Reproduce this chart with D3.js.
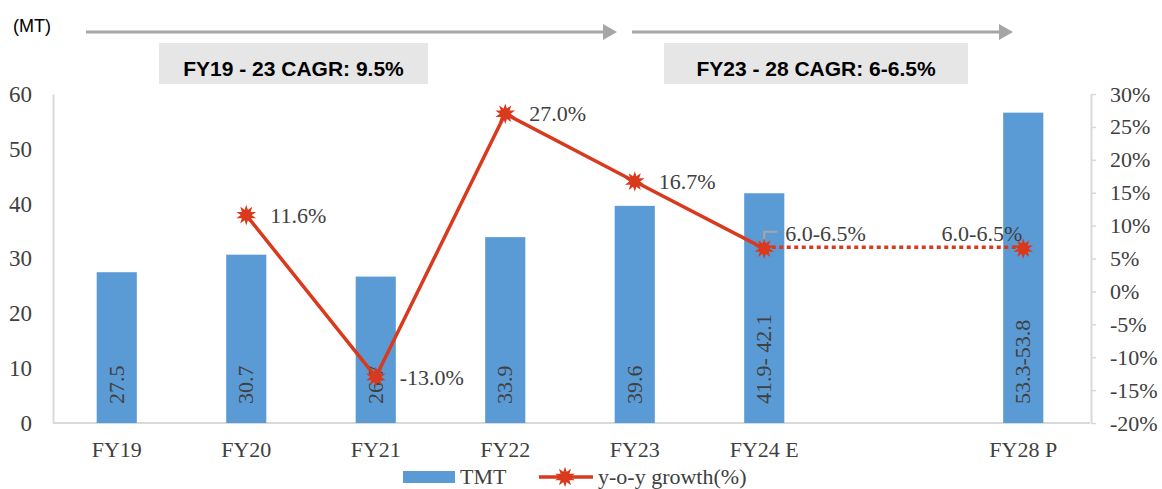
<!DOCTYPE html>
<html>
<head>
<meta charset="utf-8">
<script src="https://cdn.jsdelivr.net/npm/d3@7"></script>
<style>
  html, body { margin: 0; padding: 0; background: #ffffff; }
  svg { display: block; }
</style>
</head>
<body>
<div id="chart"></div>
<script>
// ---- data ----
const categories = ["FY19", "FY20", "FY21", "FY22", "FY23", "FY24 E", "", "FY28 P"];
const tmtValues = [27.5, 30.7, 26.7, 33.9, 39.6, 41.9, null, 56.6];
const tmtLabels = ["27.5", "30.7", "26.7", "33.9", "39.6", "41.9- 42.1", "", "53.3-53.8"];
const growthValues = [null, 11.6, -13.0, 27.0, 16.7, 6.5, null, 6.5];
const growthLabels = ["", "11.6%", "-13.0%", "27.0%", "16.7%", "6.0-6.5%", "", "6.0-6.5%"];
const solidIdx = [1, 2, 3, 4, 5];
const dottedIdx = [5, 7];
const leftTicks = [0, 10, 20, 30, 40, 50, 60];
const rightTicks = [-20, -15, -10, -5, 0, 5, 10, 15, 20, 25, 30];
const cagrTexts = ["FY19 - 23 CAGR: 9.5%", "FY23 - 28 CAGR: 6-6.5%"];
const unitLabel = "(MT)";
const legendLabels = ["TMT", "y-o-y growth(%)"];

// ---- setup ----
const W = 1162, H = 489;
const BAR = "#5B9BD5", LINE = "#D9391C", TXT = "#404040", AX = "#d9d9d9";
const serif = "'Liberation Serif', 'Times New Roman', serif";
const sans = "'Liberation Sans', Arial, sans-serif";

const svg = d3.select("#chart").append("svg").attr("width", W).attr("height", H);

const x = d3.scaleBand().domain(categories).range([52, 1088]).paddingInner(0.69).paddingOuter(0.345);
const yL = d3.scaleLinear().domain([0, 60]).range([423, 94]);
const yR = d3.scaleLinear().domain([-20, 30]).range([423, 94]);
const cx = c => x(c) + x.bandwidth() / 2;

// ---- axes ----
const gL = svg.append("g").attr("transform", "translate(53,0)")
  .call(d3.axisLeft(yL).tickValues(leftTicks).tickSize(0).tickPadding(21));
gL.select(".domain").attr("stroke", AX).attr("stroke-width", 2);
gL.selectAll("text").attr("font-family", serif).attr("font-size", 23).attr("fill", TXT);

const gR = svg.append("g").attr("transform", "translate(1091,0)")
  .call(d3.axisRight(yR).tickValues(rightTicks).tickSize(5).tickSizeOuter(0).tickPadding(14).tickFormat(d => d + "%"));
gR.select(".domain").attr("stroke", AX).attr("stroke-width", 2);
gR.selectAll(".tick line").attr("stroke", AX).attr("stroke-width", 1.5);
gR.selectAll("text").attr("font-family", serif).attr("font-size", 22).attr("fill", TXT);

const gX = svg.append("g").attr("transform", "translate(0,423)")
  .call(d3.axisBottom(x).tickSize(0).tickPadding(18));
gX.select(".domain").attr("stroke", AX).attr("stroke-width", 2).attr("d", "M1,0H1038").attr("transform", "translate(52,0)");
gX.selectAll("text").attr("font-family", serif).attr("font-size", 22).attr("fill", TXT);

// ---- bars ----
const barData = categories.map((c, i) => ({ c, v: tmtValues[i], label: tmtLabels[i] })).filter(d => d.v != null);
svg.append("g").selectAll("rect").data(barData).join("rect")
  .attr("x", d => x(d.c)).attr("width", x.bandwidth())
  .attr("y", d => yL(d.v)).attr("height", d => yL(0) - yL(d.v))
  .attr("fill", BAR);

svg.append("g").selectAll("text").data(barData).join("text")
  .attr("transform", d => `translate(${cx(d.c) + 7},${yL(0) - 19}) rotate(-90)`)
  .attr("text-anchor", "start")
  .attr("font-family", serif).attr("font-size", 22).attr("fill", TXT)
  .text(d => d.label);

// ---- line ----
const lineGen = d3.line().x(i => cx(categories[i])).y(i => yR(growthValues[i]));
svg.append("path").attr("d", lineGen(solidIdx))
  .attr("fill", "none").attr("stroke", LINE).attr("stroke-width", 3.5).attr("stroke-linejoin", "round");
svg.append("path").attr("d", d3.line().x(i => cx(categories[i])).y(i => yR(growthValues[i]) - 1.5)(dottedIdx))
  .attr("fill", "none").attr("stroke", LINE).attr("stroke-width", 3.5).attr("stroke-dasharray", "4,3.5");

// leader line for FY24 E label
const fy24 = categories[5];
svg.append("path")
  .attr("d", `M${cx(fy24)},${yR(growthValues[5]) - 2}V${yR(growthValues[5]) - 17}H${cx(fy24) + 13}`)
  .attr("fill", "none").attr("stroke", "#a6a6a6").attr("stroke-width", 2);

function marker(g, px, py) {
  g.append("path").attr("d", d3.symbol(d3.symbolStar, 120)())
    .attr("transform", `translate(${px},${py})`).attr("fill", LINE);
  g.append("path").attr("d", d3.symbol(d3.symbolStar, 120)())
    .attr("transform", `translate(${px},${py}) rotate(36)`).attr("fill", LINE);
  g.append("circle").attr("cx", px).attr("cy", py).attr("r", 5).attr("fill", LINE);
}
const mg = svg.append("g");
growthValues.forEach((v, i) => {
  if (v == null) return;
  marker(mg, cx(categories[i]), yR(v));
});

// growth labels
const lblOff = { 1: [24, 0], 2: [24, 0], 3: [24, 0], 4: [24, 0], 5: [21, -15], 7: [-1, -15] };
growthValues.forEach((v, i) => {
  if (v == null) return;
  const [dx, dy] = lblOff[i];
  svg.append("text")
    .attr("x", cx(categories[i]) + dx).attr("y", yR(v) + dy)
    .attr("dy", "0.35em")
    .attr("text-anchor", i === 7 ? "end" : "start")
    .attr("font-family", serif).attr("font-size", 22).attr("fill", TXT)
    .text(growthLabels[i]);
});

// ---- top annotations ----
svg.append("text").attr("x", 13).attr("y", 32)
  .attr("font-family", sans).attr("font-size", 18).attr("fill", "#000").text(unitLabel);

const arrows = [[86, 617], [632, 1013]];
arrows.forEach(([a, b]) => {
  svg.append("line").attr("x1", a).attr("x2", b - 13).attr("y1", 32).attr("y2", 32)
    .attr("stroke", "#a6a6a6").attr("stroke-width", 3);
  svg.append("path").attr("d", `M${b},32L${b - 14},24L${b - 14},40Z`).attr("fill", "#a6a6a6");
});

const boxes = [[159, 428], [664, 968]];
boxes.forEach(([a, b], i) => {
  svg.append("rect").attr("x", a).attr("y", 43).attr("width", b - a).attr("height", 41).attr("fill", "#e6e6e6");
  svg.append("text").attr("x", (a + b) / 2).attr("y", 76).attr("text-anchor", "middle")
    .attr("font-family", sans).attr("font-weight", "bold").attr("font-size", 21).attr("fill", "#000")
    .text(cagrTexts[i]);
});

// ---- legend ----
svg.append("rect").attr("x", 403).attr("y", 471).attr("width", 52).attr("height", 12).attr("fill", BAR);
svg.append("text").attr("x", 460).attr("y", 484).attr("font-family", serif).attr("font-size", 22).attr("fill", TXT).text(legendLabels[0]);
svg.append("line").attr("x1", 539).attr("x2", 593).attr("y1", 477).attr("y2", 477).attr("stroke", LINE).attr("stroke-width", 3.5);
marker(svg, 565, 477);
svg.append("text").attr("x", 598).attr("y", 484).attr("font-family", serif).attr("font-size", 22).attr("fill", TXT).text(legendLabels[1]);
</script>
</body>
</html>
